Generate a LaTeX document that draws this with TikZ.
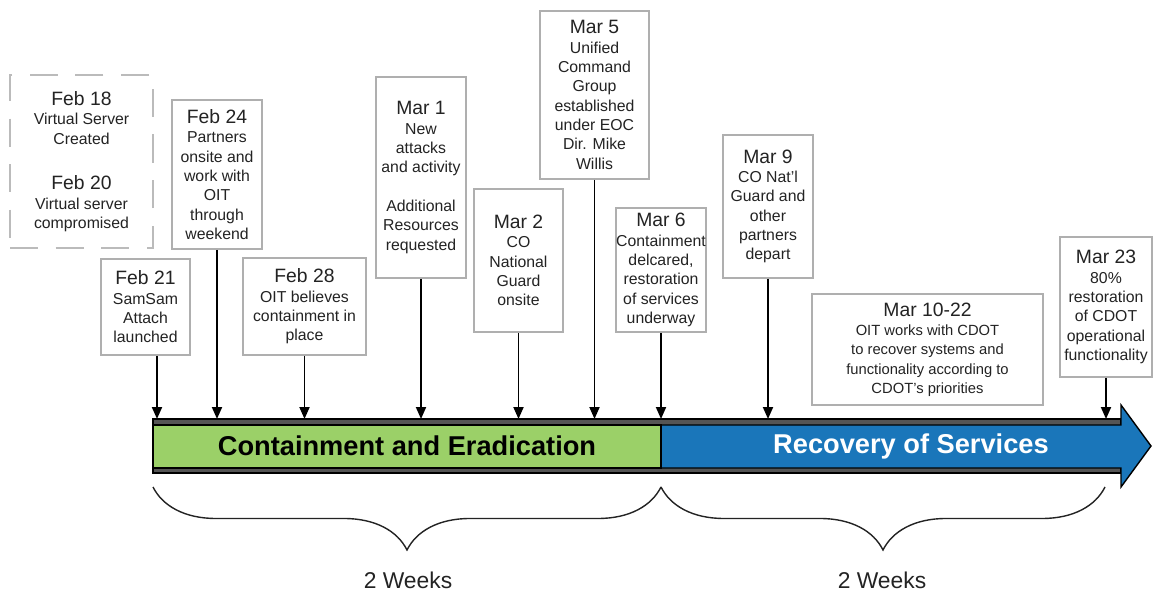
\documentclass[tikz,border=0pt]{standalone}
\usepackage{fontspec}
\setmainfont{Liberation Sans}
\usepackage{tikz}
\usetikzlibrary{arrows.meta,decorations.pathreplacing,positioning}

\definecolor{boxgray}{RGB}{175,175,175}
\definecolor{stripgray}{RGB}{85,85,85}
\definecolor{phasegreen}{RGB}{155,208,104}
\definecolor{phaseblue}{RGB}{26,118,186}
\definecolor{inkgray}{RGB}{35,35,35}

\newcommand{\evdate}[1]{{\fontsize{11}{13}\selectfont #1}}

\begin{document}
\begin{tikzpicture}[
    x=0.02cm, y=-0.02cm,
    evbox/.style={draw=boxgray, line width=1.1pt, fill=white, align=center,
        inner sep=0pt, text=inkgray, font=\fontsize{9}{11}\selectfont},
    evarrow/.style={-{Triangle[length=0.24cm,width=0.2cm]}, line width=1.1pt},
    daybrace/.style={decorate, decoration={brace, mirror, amplitude=1.26cm},
        line width=0.8pt, draw=inkgray},
    phase/.style={font=\fontsize{15.5}{18}\selectfont\bfseries},
    weeks/.style={font=\fontsize{13}{15}\selectfont, text=inkgray}
]
\useasboundingbox (0,0) rectangle (1153,594);

% timeline bar
\coordinate (bartop) at (0,419);
\filldraw[fill=stripgray, draw=black, line width=0.8pt] (153,419) rectangle (1121,473);
\filldraw[fill=phaseblue, draw=black, line width=0.8pt]
    (661,425) -- (1121,425) -- (1121,405) -- (1151,446) -- (1121,487)
    -- (1121,468) -- (661,468) -- cycle;
\filldraw[fill=phasegreen, draw=black, line width=1.2pt] (153,425) rectangle (661,468);
\node[phase] (cont) at (407,446) {Containment and Eradication};
\node[phase, text=white] (recov) at (911,446) {Recovery of Services};

% events
\node[evbox, draw=boxgray!85, dash pattern=on 16pt off 10pt,
    minimum width=2.86cm, minimum height=3.46cm] (feb18) at (81.5,161.5)
    {\evdate{Feb 18}\\Virtual Server\\Created\\[15pt]\evdate{Feb 20}\\Virtual server\\compromised};
\node[evbox, minimum width=1.8cm, minimum height=2.98cm] (feb24) at (217,174.5)
    {\evdate{Feb 24}\\Partners\\onsite and\\work with\\OIT\\through\\weekend};
\node[evbox, minimum width=1.78cm, minimum height=1.92cm] (feb21) at (145.5,307)
    {\evdate{Feb 21}\\SamSam\\Attach\\launched};
\node[evbox, minimum width=2.46cm, minimum height=1.94cm] (feb28) at (304.5,306.5)
    {\evdate{Feb 28}\\OIT believes\\containment in\\place};
\node[evbox, minimum width=1.8cm, minimum height=4.02cm] (mar1) at (421,177.5)
    {\evdate{Mar 1}\\New\\attacks\\and activity\\[11pt]Additional\\Resources\\requested};
\node[evbox, minimum width=1.78cm, minimum height=2.86cm] (mar2) at (518.5,260.5)
    {\evdate{Mar 2}\\CO\\National\\Guard\\onsite};
\node[evbox, minimum width=2.18cm, minimum height=3.36cm] (mar5) at (594.5,95)
    {\evdate{Mar 5}\\Unified\\Command\\Group\\established\\under EOC\\Dir. Mike\\Willis};
\node[evbox, minimum width=1.8cm, minimum height=2.48cm] (mar6) at (661,270)
    {\evdate{Mar 6}\\Containment\\delcared,\\restoration\\of services\\underway};
\node[evbox, minimum width=1.8cm, minimum height=2.86cm] (mar9) at (768,206.5)
    {\evdate{Mar 9}\\CO Nat'l\\Guard and\\other\\partners\\depart};
\node[evbox, font=\fontsize{8.4}{11}\selectfont, minimum width=4.62cm, minimum height=2.22cm]
    (mar10) at (927.5,349.5)
    {\evdate{Mar 10-22}\\OIT works with CDOT\\to recover systems and\\functionality according to\\CDOT's priorities};
\node[evbox, minimum width=1.84cm, minimum height=2.8cm] (mar23) at (1106,307)
    {\evdate{Mar 23}\\80\%\\restoration\\of CDOT\\operational\\functionality};

% arrows onto the bar
\coordinate (on21) at (157,419);
\draw[evarrow] (feb21.south -| on21) -- (on21);
\foreach \ev in {feb24,feb28,mar1,mar2,mar5,mar6,mar9,mar23}
    \draw[evarrow] (\ev) -- (\ev |- bartop);

% durations
\draw[daybrace] (153,487) -- (661,487);
\draw[daybrace] (661,487) -- (1105,487);
\node[weeks] (wk1) at (408,580) {2 Weeks};
\node[weeks] (wk2) at (882,580) {2 Weeks};
\end{tikzpicture}
\end{document}
